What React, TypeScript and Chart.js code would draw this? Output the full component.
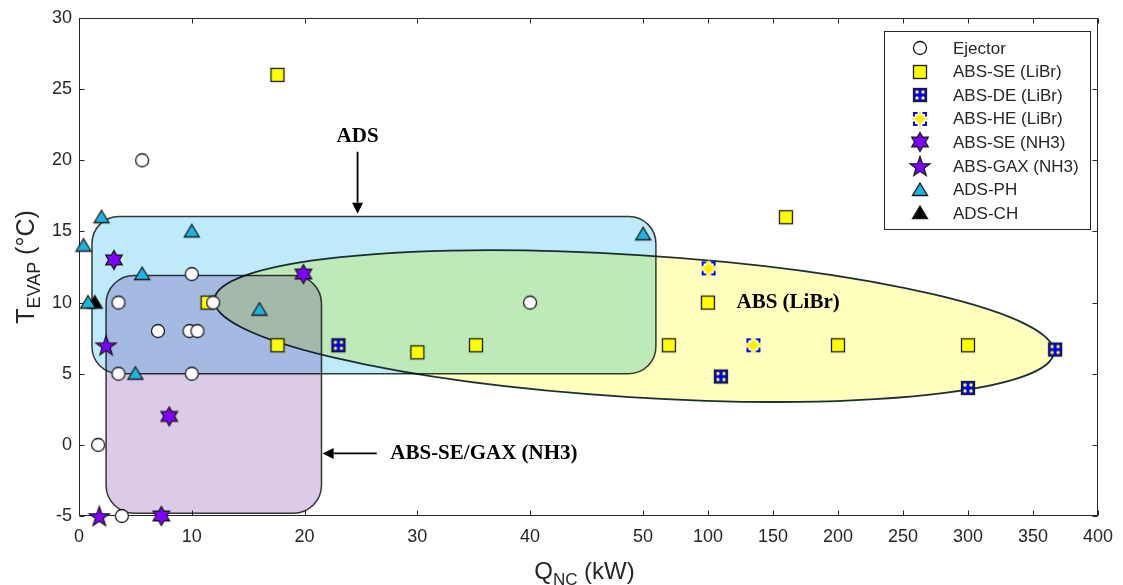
import React, { useEffect, useRef } from 'react';
import { Chart, registerables, LinearScale } from 'chart.js';

// ---------- data ----------
const X_TICKS = [0, 10, 20, 30, 40, 50, 100, 150, 200, 250, 300, 350, 400];
const X_BREAK = 50; // axis is compressed above 50 kW

const EJECTOR_X = [5.6, 3.5, 10, 7, 9.8, 10.5, 3.5, 10, 1.7, 3.8, 11.9, 40];
const EJECTOR_Y = [20, 10, 12, 8, 8, 8, 5, 5, 0, -5, 10, 10];

const ABS_SE_LIBR_X = [17.6, 11.4, 17.6, 30, 35.2, 70, 100, 160, 200, 300];
const ABS_SE_LIBR_Y = [26, 10, 7, 6.5, 7, 7, 10, 16, 7, 7];

const ABS_DE_LIBR_X = [23, 110, 300, 367];
const ABS_DE_LIBR_Y = [7, 4.8, 4, 6.7];

const ABS_HE_LIBR_X = [100.5, 135];
const ABS_HE_LIBR_Y = [12.4, 7];

const ABS_SE_NH3_X = [3.1, 19.9, 8, 7.3];
const ABS_SE_NH3_Y = [13, 12, 2, -5];

const ABS_GAX_NH3_X = [2.4, 1.8];
const ABS_GAX_NH3_Y = [7, -5];

const ADS_PH_X = [2, 0.4, 10, 5.6, 0.8, 16, 5, 50.2];
const ADS_PH_Y = [16, 14, 15, 12, 10, 9.5, 5, 14.8];

const ADS_CH_X = [1.4];
const ADS_CH_Y = [10];

const SERIES_LABELS = [
  'Ejector', 'ABS-SE (LiBr)', 'ABS-DE (LiBr)', 'ABS-HE (LiBr)',
  'ABS-SE (NH3)', 'ABS-GAX (NH3)', 'ADS-PH', 'ADS-CH',
];

// regions (data units)
const ADS_REGION = { x0: 1.15, x1: 60, y0: 5, y1: 16.05 };
const NH3_REGION = { x0: 2.4, x1: 21.5, y0: -4.8, y1: 11.9 };
const LIBR_REGION = { xl: 12, yl: 10.2, xr: 366, yr: 6.5, halfHeight: 5.0 };

// annotations (data units)
const ADS_NOTE = { text: 'ADS', x: 24.7, y: 21.7, from: 20.6, to: 16.25 };
const LIBR_NOTE = { text: 'ABS (LiBr)', x: 122, y: 10 };
const NH3_NOTE = { text: 'ABS-SE/GAX (NH3)', x: 27.6, y: -0.6, from: 26.4, to: 21.6 };

// ---------- style ----------
const SANS = '"Liberation Sans", Arial, sans-serif';
const SERIF = '"Liberation Serif", "Times New Roman", serif';
const TXT = '#262626';
const EDGE = '#1a1a1a';
const PURPLE = '#8000ff';
const CYAN = '#1eb4e2';
const BREAK_FRAC = 0.5534;

// ---------- custom broken scale ----------
class BrokenScale extends LinearScale {
  static id = 'broken';
  static defaults = (LinearScale as any).defaults;
  buildTicks() {
    return X_TICKS.map((v) => ({ value: v }));
  }
  getPixelForValue(value: number) {
    const min = (this as any).min, max = (this as any).max;
    let d: number;
    if (value <= X_BREAK) d = ((value - min) / (X_BREAK - min)) * BREAK_FRAC;
    else d = BREAK_FRAC + ((value - X_BREAK) / (max - X_BREAK)) * (1 - BREAK_FRAC);
    return (this as any).getPixelForDecimal(d);
  }
  getValueForPixel(pixel: number) {
    const min = (this as any).min, max = (this as any).max;
    const d = (this as any).getDecimalForPixel(pixel);
    if (d <= BREAK_FRAC) return min + (d / BREAK_FRAC) * (X_BREAK - min);
    return X_BREAK + ((d - BREAK_FRAC) / (1 - BREAK_FRAC)) * (max - X_BREAK);
  }
}

Chart.register(...registerables, BrokenScale as any);

// ---------- marker images ----------
function mk(size: number, draw: (g: CanvasRenderingContext2D, c: number) => void) {
  const cv = document.createElement('canvas');
  cv.width = size;
  cv.height = size;
  const g = cv.getContext('2d')!;
  draw(g, size / 2);
  return cv;
}
function starPath(g: CanvasRenderingContext2D, cx: number, cy: number, n: number, R: number, r: number) {
  g.beginPath();
  for (let i = 0; i < 2 * n; i++) {
    const ang = -Math.PI / 2 + (i * Math.PI) / n;
    const rad = i % 2 === 0 ? R : r;
    const px = cx + rad * Math.cos(ang);
    const py = cy + rad * Math.sin(ang);
    if (i === 0) g.moveTo(px, py);
    else g.lineTo(px, py);
  }
  g.closePath();
}
function makeMarkers() {
  const circle = mk(18, (g, c) => {
    g.beginPath();
    g.arc(c, c, 6.5, 0, Math.PI * 2);
    g.fillStyle = '#fff';
    g.fill();
    g.lineWidth = 1.3;
    g.strokeStyle = EDGE;
    g.stroke();
  });
  const square = mk(18, (g, c) => {
    g.fillStyle = '#ffff00';
    g.fillRect(c - 6.5, c - 6.5, 13, 13);
    g.lineWidth = 1.3;
    g.strokeStyle = EDGE;
    g.strokeRect(c - 6.5, c - 6.5, 13, 13);
  });
  const de = mk(18, (g, c) => {
    g.fillStyle = '#0000ff';
    g.fillRect(c - 6.5, c - 6.5, 13, 13);
    g.lineWidth = 1.3;
    g.strokeStyle = EDGE;
    g.strokeRect(c - 6.5, c - 6.5, 13, 13);
    g.fillStyle = '#ffff00';
    for (const dx of [-3, 3]) for (const dy of [-3, 3]) {
      g.beginPath();
      g.arc(c + dx, c + dy, 1.7, 0, Math.PI * 2);
      g.fill();
    }
  });
  const he = mk(20, (g, c) => {
    g.strokeStyle = '#ffee00';
    g.lineWidth = 1.5;
    g.beginPath();
    g.moveTo(c - 8, c); g.lineTo(c + 8, c);
    g.moveTo(c, c - 8); g.lineTo(c, c + 8);
    g.stroke();
    g.strokeStyle = '#0000ff';
    g.lineWidth = 2;
    const h = 6, L = 3.5;
    for (const sx of [-1, 1]) for (const sy of [-1, 1]) {
      g.beginPath();
      g.moveTo(c + sx * h, c + sy * (h - L));
      g.lineTo(c + sx * h, c + sy * h);
      g.lineTo(c + sx * (h - L), c + sy * h);
      g.stroke();
    }
    g.beginPath();
    g.arc(c, c, 4.3, 0, Math.PI * 2);
    g.fillStyle = '#ffee00';
    g.fill();
  });
  const hexa = mk(24, (g, c) => {
    starPath(g, c, c, 6, 9.5, 9.5 / Math.sqrt(3));
    g.fillStyle = PURPLE;
    g.fill();
    g.lineWidth = 1.3;
    g.strokeStyle = EDGE;
    g.stroke();
  });
  const penta = mk(26, (g, c) => {
    starPath(g, c, c + 1, 5, 10.5, 4.2);
    g.fillStyle = PURPLE;
    g.fill();
    g.lineWidth = 1.3;
    g.strokeStyle = EDGE;
    g.stroke();
  });
  const tri = (fill: string) =>
    mk(20, (g, c) => {
      g.beginPath();
      g.moveTo(c, c - 7);
      g.lineTo(c + 7.5, c + 5.5);
      g.lineTo(c - 7.5, c + 5.5);
      g.closePath();
      g.fillStyle = fill;
      g.fill();
      g.lineWidth = 1.3;
      g.strokeStyle = EDGE;
      g.stroke();
    });
  return [circle, square, de, he, hexa, penta, tri(CYAN), tri('#000')];
}

// ---------- drawing helpers ----------
function roundRectPath(ctx: CanvasRenderingContext2D, x0: number, y0: number, x1: number, y1: number, r: number) {
  ctx.beginPath();
  ctx.moveTo(x0 + r, y0);
  ctx.lineTo(x1 - r, y0);
  ctx.arcTo(x1, y0, x1, y0 + r, r);
  ctx.lineTo(x1, y1 - r);
  ctx.arcTo(x1, y1, x1 - r, y1, r);
  ctx.lineTo(x0 + r, y1);
  ctx.arcTo(x0, y1, x0, y1 - r, r);
  ctx.lineTo(x0, y0 + r);
  ctx.arcTo(x0, y0, x0 + r, y0, r);
  ctx.closePath();
}
function arrow(ctx: CanvasRenderingContext2D, x1: number, y1: number, x2: number, y2: number) {
  const ang = Math.atan2(y2 - y1, x2 - x1);
  const hl = 11, hw = 5.5;
  const bx = x2 - hl * Math.cos(ang), by = y2 - hl * Math.sin(ang);
  ctx.strokeStyle = '#000';
  ctx.fillStyle = '#000';
  ctx.lineWidth = 1.8;
  ctx.beginPath();
  ctx.moveTo(x1, y1);
  ctx.lineTo(bx, by);
  ctx.stroke();
  ctx.beginPath();
  ctx.moveTo(x2, y2);
  ctx.lineTo(bx + hw * Math.sin(ang), by - hw * Math.cos(ang));
  ctx.lineTo(bx - hw * Math.sin(ang), by + hw * Math.cos(ang));
  ctx.closePath();
  ctx.fill();
}
function drawSubTitle(ctx: CanvasRenderingContext2D, main: string, sub: string, rest: string, big: number, small: number, drop: number) {
  ctx.font = `${big}px ${SANS}`;
  const w1 = ctx.measureText(main).width;
  const w3 = ctx.measureText(rest).width;
  ctx.font = `${small}px ${SANS}`;
  const w2 = ctx.measureText(sub).width;
  let x = -(w1 + w2 + w3) / 2;
  ctx.textBaseline = 'alphabetic';
  ctx.textAlign = 'left';
  ctx.font = `${big}px ${SANS}`;
  ctx.fillText(main, x, 0);
  x += w1;
  ctx.font = `${small}px ${SANS}`;
  ctx.fillText(sub, x, drop);
  x += w2;
  ctx.font = `${big}px ${SANS}`;
  ctx.fillText(rest, x, 0);
}

export default function App() {
  const ref = useRef<HTMLCanvasElement>(null);
  useEffect(() => {
    const markers = makeMarkers();
    const xs = [EJECTOR_X, ABS_SE_LIBR_X, ABS_DE_LIBR_X, ABS_HE_LIBR_X, ABS_SE_NH3_X, ABS_GAX_NH3_X, ADS_PH_X, ADS_CH_X];
    const ys = [EJECTOR_Y, ABS_SE_LIBR_Y, ABS_DE_LIBR_Y, ABS_HE_LIBR_Y, ABS_SE_NH3_Y, ABS_GAX_NH3_Y, ADS_PH_Y, ADS_CH_Y];
    const datasets = SERIES_LABELS.map((label, i) => ({
      label,
      data: xs[i].map((x, j) => ({ x, y: ys[i][j] })),
      pointStyle: markers[i] as any,
      pointRadius: 7,
      pointHoverRadius: 7,
      showLine: false,
      clip: false as any,
    }));

    const overlay = {
      id: 'overlay',
      beforeDraw(chart: any) {
        const { ctx, width, height } = chart;
        ctx.save();
        ctx.fillStyle = '#fff';
        ctx.fillRect(0, 0, width, height);
        ctx.restore();
      },
      beforeDatasetsDraw(chart: any) {
        const { ctx, chartArea: a } = chart;
        const X = chart.scales.x, Y = chart.scales.y;
        ctx.save();
        // axes box
        const L = Math.round(a.left) + 0.5, R = Math.round(a.right) - 0.5;
        const T = Math.round(a.top) + 0.5, B = Math.round(a.bottom) - 0.5;
        ctx.strokeStyle = TXT;
        ctx.lineWidth = 1;
        ctx.strokeRect(L, T, R - L, B - T);
        ctx.beginPath();
        for (const v of X_TICKS) {
          const px = Math.round(X.getPixelForValue(v)) + 0.5;
          ctx.moveTo(px, B); ctx.lineTo(px, B - 5);
          ctx.moveTo(px, T); ctx.lineTo(px, T + 5);
        }
        for (const t of Y.ticks) {
          const py = Math.round(Y.getPixelForValue(t.value)) + 0.5;
          ctx.moveTo(L, py); ctx.lineTo(L + 5, py);
          ctx.moveTo(R, py); ctx.lineTo(R - 5, py);
        }
        ctx.stroke();

        // regions (multiply blend like overlaid transparent shapes)
        ctx.globalCompositeOperation = 'multiply';
        roundRectPath(ctx, X.getPixelForValue(ADS_REGION.x0), Y.getPixelForValue(ADS_REGION.y1),
          X.getPixelForValue(ADS_REGION.x1), Y.getPixelForValue(ADS_REGION.y0), 27);
        ctx.fillStyle = 'rgb(190,234,249)';
        ctx.fill();
        ctx.lineWidth = 1.5;
        ctx.strokeStyle = '#3a3a3a';
        ctx.stroke();
        roundRectPath(ctx, X.getPixelForValue(NH3_REGION.x0), Y.getPixelForValue(NH3_REGION.y1),
          X.getPixelForValue(NH3_REGION.x1), Y.getPixelForValue(NH3_REGION.y0), 28);
        ctx.fillStyle = 'rgb(220,203,232)';
        ctx.fill();
        ctx.strokeStyle = '#3a3a3a';
        ctx.stroke();
        const lx = X.getPixelForValue(LIBR_REGION.xl), ly = Y.getPixelForValue(LIBR_REGION.yl);
        const rx = X.getPixelForValue(LIBR_REGION.xr), ry = Y.getPixelForValue(LIBR_REGION.yr);
        const semiA = Math.hypot(rx - lx, ry - ly) / 2;
        const semiB = Math.abs(Y.getPixelForValue(0) - Y.getPixelForValue(LIBR_REGION.halfHeight));
        ctx.beginPath();
        ctx.ellipse((lx + rx) / 2, (ly + ry) / 2, semiA, semiB, Math.atan2(ry - ly, rx - lx), 0, Math.PI * 2);
        ctx.fillStyle = 'rgb(255,255,190)';
        ctx.fill();
        ctx.lineWidth = 1.8;
        ctx.strokeStyle = '#1e2e3a';
        ctx.stroke();
        ctx.restore();
      },
      afterDatasetsDraw(chart: any) {
        const { ctx, chartArea: a } = chart;
        const X = chart.scales.x, Y = chart.scales.y;
        ctx.save();
        // annotations
        ctx.fillStyle = '#000';
        ctx.font = `bold 21px ${SERIF}`;
        ctx.textBaseline = 'middle';
        ctx.textAlign = 'center';
        const adsX = X.getPixelForValue(ADS_NOTE.x);
        ctx.fillText(ADS_NOTE.text, adsX, Y.getPixelForValue(ADS_NOTE.y));
        arrow(ctx, adsX, Y.getPixelForValue(ADS_NOTE.from), adsX, Y.getPixelForValue(ADS_NOTE.to));
        ctx.textAlign = 'left';
        ctx.fillStyle = '#000';
        ctx.fillText(LIBR_NOTE.text, X.getPixelForValue(LIBR_NOTE.x), Y.getPixelForValue(LIBR_NOTE.y));
        const ny = Y.getPixelForValue(NH3_NOTE.y);
        ctx.fillText(NH3_NOTE.text, X.getPixelForValue(NH3_NOTE.x), ny);
        arrow(ctx, X.getPixelForValue(NH3_NOTE.from), ny, X.getPixelForValue(NH3_NOTE.to), ny);

        // legend
        const lgX = 884.5, lgY = 31.5, lgW = 206, lgH = 198;
        ctx.fillStyle = '#fff';
        ctx.fillRect(lgX, lgY, lgW, lgH);
        ctx.strokeStyle = TXT;
        ctx.lineWidth = 1;
        ctx.strokeRect(lgX, lgY, lgW, lgH);
        ctx.font = `17px ${SANS}`;
        ctx.fillStyle = TXT;
        ctx.textAlign = 'left';
        ctx.textBaseline = 'middle';
        chart.data.datasets.forEach((ds: any, i: number) => {
          const cy = 48 + i * 23.6;
          const img = markers[i];
          ctx.drawImage(img, Math.round(920 - img.width / 2), Math.round(cy - img.height / 2));
          ctx.fillText(ds.label, 953, cy + 1);
        });

        // axis titles
        ctx.fillStyle = TXT;
        ctx.save();
        ctx.translate((a.left + a.right) / 2 - 4, 579);
        drawSubTitle(ctx, 'Q', 'NC', ' (kW)', 24, 17, 6);
        ctx.restore();
        ctx.save();
        ctx.translate(34, (a.top + a.bottom) / 2);
        ctx.rotate(-Math.PI / 2);
        drawSubTitle(ctx, 'T', 'EVAP', ' (°C)', 25, 18, 6);
        ctx.restore();
        ctx.restore();
      },
    };

    const tickFont = { family: SANS, size: 18 };
    const chart = new Chart(ref.current!, {
      type: 'scatter',
      data: { datasets },
      options: {
        animation: false,
        responsive: false,
        devicePixelRatio: 1,
        events: [],
        layout: { padding: { left: 0, right: 23, top: 18, bottom: 0 } },
        plugins: { legend: { display: false }, tooltip: { enabled: false } },
        scales: {
          x: {
            type: 'broken' as any,
            min: 0,
            max: 400,
            grid: { display: false, drawTicks: false },
            border: { display: false },
            ticks: {
              autoSkip: false, maxRotation: 0, minRotation: 0, padding: 10,
              color: TXT, font: tickFont, callback: (v: any) => String(v),
            },
            afterFit: (s: any) => { s.height = 69; },
          },
          y: {
            type: 'linear',
            min: -5,
            max: 30,
            grid: { display: false, drawTicks: false },
            border: { display: false },
            ticks: { stepSize: 5, padding: 7, color: TXT, font: tickFont },
            afterFit: (s: any) => { s.width = 79; },
          },
        },
      } as any,
      plugins: [overlay],
    });
    return () => chart.destroy();
  }, []);

  return (
    <div style={{ position: 'fixed', left: 0, top: 0, width: 1123, height: 585, background: '#fff' }}>
      <canvas ref={ref} width={1123} height={585} style={{ display: 'block', width: 1123, height: 585 }} />
    </div>
  );
}
